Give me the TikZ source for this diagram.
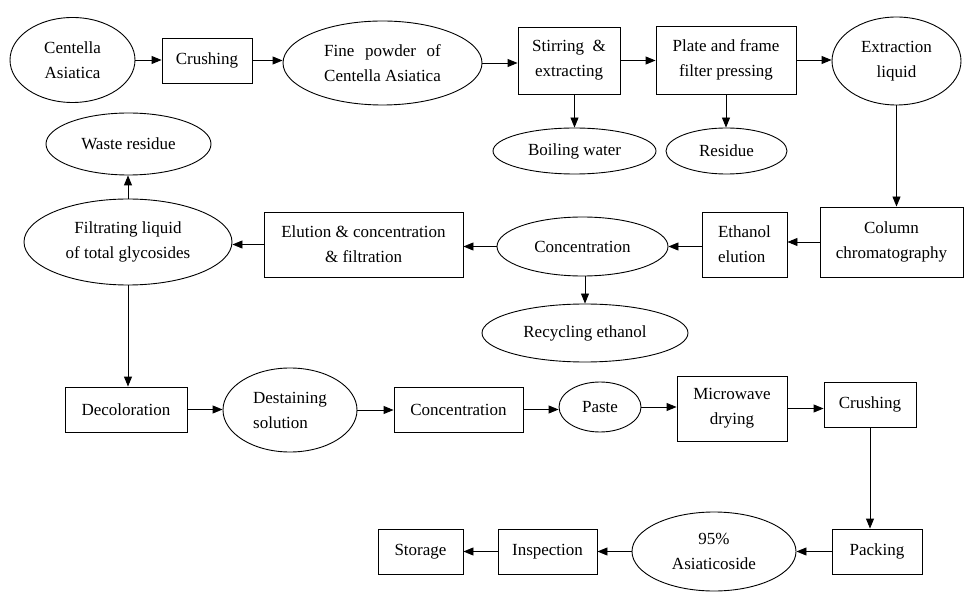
\documentclass[tikz,border=0pt]{standalone}
\usepackage{fontspec}
\usepackage{calc}
\setmainfont{Liberation Serif}
\usetikzlibrary{shapes.geometric,arrows.meta}
\tikzset{
  box/.style={draw, rectangle, inner sep=0pt, align=center, line width=0.9pt},
  oval/.style={draw, ellipse, inner sep=0pt, align=center, line width=0.9pt},
  arr/.style={line width=0.9pt, -{Triangle[length=10pt,width=8pt]}},
}
\begin{document}
\begin{tikzpicture}[x=1pt,y=-1pt,font=\fontsize{17}{25}\selectfont]
\useasboundingbox (0,0) rectangle (974,601);
% row 1
\node[oval, minimum width=125pt, minimum height=85pt] (cent) at (72.5,60) {Centella\\Asiatica};
\node[box, minimum width=90pt, minimum height=45pt] (crusha) at (207,60.5) {Crushing};
\node[oval, minimum width=199pt, minimum height=84pt] (fine) at (382.5,63) {\makebox[\widthof{Centella Asiatica}][s]{Fine powder of}\\Centella Asiatica};
\node[box, minimum width=102pt, minimum height=67pt] (stir) at (569,60.5) {Stirring\ \ \&\\extracting};
\node[box, minimum width=140pt, minimum height=68pt] (plate) at (726,60) {Plate and frame\\filter pressing};
\node[oval, minimum width=129pt, minimum height=88pt] (extr) at (896.5,61) {Extraction\\liquid};
\node[oval, minimum width=163pt, minimum height=46pt] (boil) at (574.5,151) {Boiling water};
\node[oval, minimum width=121pt, minimum height=46pt] (resid) at (726.5,151) {Residue};
\node[oval, minimum width=165pt, minimum height=62pt] (waste) at (128.5,144) {Waste residue};
% row 2
\node[oval, minimum width=208pt, minimum height=86pt] (filt) at (128,242) {Filtrating liquid\\of total glycosides};
\node[box, minimum width=199pt, minimum height=65pt] (elu) at (363.5,244.5) {Elution \& concentration\\\& filtration};
\node[oval, minimum width=171pt, minimum height=59pt] (conc) at (582.5,246.5) {Concentration};
\node[box, minimum width=85pt, minimum height=65pt, align=left] (eth) at (744.5,244.5) {Ethanol\\elution};
\node[box, minimum width=143pt, minimum height=70pt] (col) at (891.5,242) {Column\\chromatography};
\node[oval, minimum width=206pt, minimum height=58pt] (recyc) at (585,333) {Recycling ethanol};
% row 3
\node[box, minimum width=122pt, minimum height=45pt] (decol) at (126,409.5) {Decoloration};
\node[oval, minimum width=134pt, minimum height=84pt, align=left] (destain) at (290,410) {Destaining\\solution};
\node[box, minimum width=129pt, minimum height=45pt] (concb) at (458.5,409.5) {Concentration};
\node[oval, minimum width=82pt, minimum height=50pt] (paste) at (600,407) {Paste};
\node[box, minimum width=110pt, minimum height=65pt] (micro) at (732,408.5) {Microwave\\drying};
\node[box, minimum width=92pt, minimum height=45pt] (crushb) at (870,404.5) {Crushing};
% row 4
\node[box, minimum width=90pt, minimum height=45pt] (pack) at (877,551.5) {Packing};
\node[oval, minimum width=164pt, minimum height=79pt] (asia) at (714,551.5) {95\%\\Asiaticoside};
\node[box, minimum width=99pt, minimum height=45pt] (insp) at (547.5,551.5) {Inspection};
\node[box, minimum width=85pt, minimum height=45pt] (stor) at (420.5,551.5) {Storage};
% arrows row 1
\draw[arr] (cent.east) -- (cent.east -| crusha.west);
\draw[arr] (crusha.east) -- (crusha.east -| fine.west);
\draw[arr] (fine.east) -- (fine.east -| stir.west);
\draw[arr] (stir.east) -- (stir.east -| plate.west);
\draw[arr] (plate.east) -- (plate.east -| extr.west);
\draw[arr] (stir.south -| boil.north) -- (boil.north);
\draw[arr] (plate.south) -- (plate.south |- resid.north);
\draw[arr] (extr.south) -- (extr.south |- col.north);
% arrows row 2
\draw[arr] (col.west) -- (col.west -| eth.east);
\draw[arr] (conc.east -| eth.west) -- (conc.east);
\draw[arr] (conc.west) -- (conc.west -| elu.east);
\draw[arr] (elu.west) -- (elu.west -| filt.east);
\draw[arr] (conc.south -| recyc.north) -- (recyc.north);
\draw[arr] (filt.north) -- (filt.north |- waste.south);
\draw[arr] (filt.south) -- (filt.south |- decol.north);
% arrows row 3
\draw[arr] (decol.east) -- (decol.east -| destain.west);
\draw[arr] (destain.east) -- (destain.east -| concb.west);
\draw[arr] (concb.east) -- (concb.east -| paste.west);
\draw[arr] (paste.east) -- (paste.east -| micro.west);
\draw[arr] (micro.east) -- (micro.east -| crushb.west);
\draw[arr] (crushb.south) -- (crushb.south |- pack.north);
% arrows row 4
\draw[arr] (pack.west) -- (pack.west -| asia.east);
\draw[arr] (asia.west) -- (asia.west -| insp.east);
\draw[arr] (insp.west) -- (insp.west -| stor.east);
\end{tikzpicture}
\end{document}
